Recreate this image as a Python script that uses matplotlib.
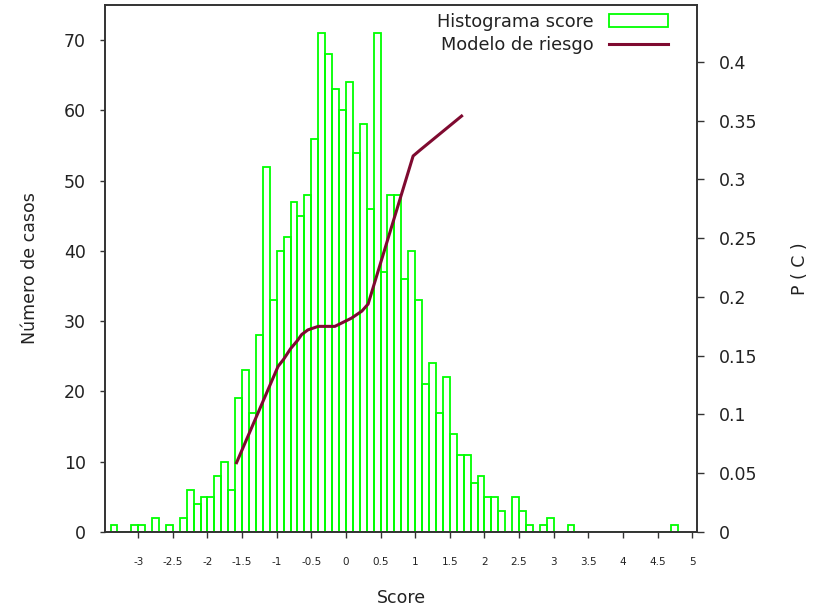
import matplotlib
matplotlib.use('Agg')
import matplotlib.pyplot as plt
import numpy as np

# histogram bins (left edge, width 0.1) and counts
bin_left = [round(-3.4 + 0.1 * i, 1) for i in range(82)]
counts = [1, 0, 0, 1, 1, 0, 2, 0, 1, 0,
          2, 6, 4, 5, 5, 8, 10, 6, 19, 23,
          17, 28, 52, 33, 40, 42, 47, 45, 48, 56,
          71, 68, 63, 60, 64, 54, 58, 46, 71, 37,
          48, 48, 36, 40, 33, 21, 24, 17, 22, 14,
          11, 11, 7, 8, 5, 5, 3, 0, 5, 3,
          1, 0, 1, 2, 0, 0, 1, 0, 0, 0,
          0, 0, 0, 0, 0, 0, 0, 0, 0, 0,
          0, 1]

# risk model curve
model_x = [-1.58, -0.98, -0.9, -0.8, -0.7, -0.64, -0.55, -0.4, -0.16, 0.08, 0.23, 0.32, 0.97, 1.07, 1.67]
model_p = [0.059, 0.141, 0.147, 0.156, 0.163, 0.168, 0.172, 0.175, 0.175, 0.182, 0.188, 0.194, 0.320, 0.325, 0.354]

xticks = [-3, -2.5, -2, -1.5, -1, -0.5, 0, 0.5, 1, 1.5, 2, 2.5, 3, 3.5, 4, 4.5, 5]
xticklabels = ['-3', '-2.5', '-2', '-1.5', '-1', '-0.5', '0', '0.5', '1', '1.5', '2', '2.5', '3', '3.5', '4', '4.5', '5']
yticks = [0, 10, 20, 30, 40, 50, 60, 70]
y2ticks = [0, 0.05, 0.1, 0.15, 0.2, 0.25, 0.3, 0.35, 0.4]
y2ticklabels = ['0', '0.05', '0.1', '0.15', '0.2', '0.25', '0.3', '0.35', '0.4']

green = '#00ff00'
maroon = '#7f0a30'
txt = '#222222'

fig = plt.figure(figsize=(8.14, 6.13), dpi=100)
ax = fig.add_axes([105 / 814, 81 / 613, 592 / 814, 527 / 613])
ax2 = ax.twinx()

ax.bar(bin_left, counts, width=0.1, align='edge', fill=False,
       edgecolor=green, linewidth=1.3, label='Histograma score')
ln, = ax2.plot(model_x, model_p, color=maroon, linewidth=2.2, label='Modelo de riesgo')

ax.set_xlim(-3.48, 5.07)
ax.set_ylim(0, 75)
ax2.set_ylim(0, 0.4485)

ax.set_xticks(xticks)
ax.set_xticklabels(xticklabels, fontsize=7.5, color=txt)
ax.set_yticks(yticks)
ax.set_yticklabels([str(v) for v in yticks], fontsize=12.5, color=txt)
ax2.set_yticks(y2ticks)
ax2.set_yticklabels(y2ticklabels, fontsize=12.5, color=txt)

ax.tick_params(axis='x', direction='out', length=4.3, width=1, pad=14, colors='#333333', labelcolor=txt)
ax.tick_params(axis='y', direction='out', length=3.6, width=1, pad=10, colors='#333333', labelcolor=txt)
ax2.tick_params(axis='y', direction='out', length=5, width=1, pad=11, colors='#333333', labelcolor=txt)

for a in (ax, ax2):
    for s in a.spines.values():
        s.set_color('#333333')
        s.set_linewidth(1.2)

ax.set_xlabel('Score', fontsize=12.5, color=txt)
ax.xaxis.set_label_coords(0.5, -0.125)
ax.xaxis.label.set_va('center')
ax.set_ylabel('Número de casos', fontsize=12.5, color=txt)
ax.yaxis.set_label_coords(-0.127, 0.5)
ax.yaxis.label.set_va('center')
ax2.set_ylabel('P ( C )', fontsize=12.5, color=txt)
ax2.yaxis.set_label_coords(1.174, 0.5)
ax2.yaxis.label.set_va('center')

h1, l1 = ax.get_legend_handles_labels()
leg = ax2.legend(h1 + [ln], l1 + ['Modelo de riesgo'], loc='upper right',
                 bbox_to_anchor=(0.951, 0.985), frameon=False, markerfirst=False,
                 fontsize=12.8, handlelength=3.3, handletextpad=0.9,
                 labelspacing=0.3, borderpad=0, borderaxespad=0)
for t in leg.get_texts():
    t.set_color(txt)

fig.savefig('out.png', dpi=100)
